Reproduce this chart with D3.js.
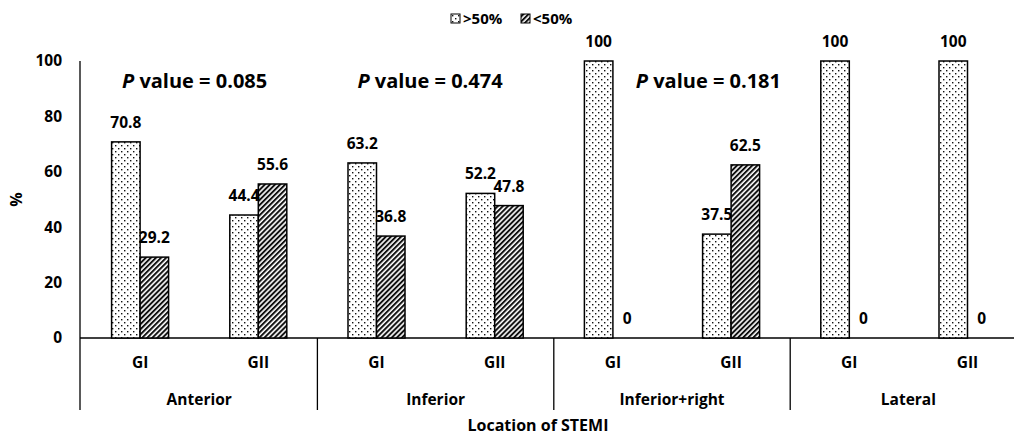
<!DOCTYPE html>
<html>
<head>
<meta charset="utf-8">
<script src="https://cdn.jsdelivr.net/npm/d3@7"></script>
<style>
  body { margin: 0; background: #fff; }
  text { font-family: "Open Sans", "Noto Sans", sans-serif; font-weight: 700; fill: #000; }
</style>
</head>
<body>
<div id="chart"></div>
<script>
// chart values
var groups = ["Anterior", "Inferior", "Inferior+right", "Lateral"];
var subCats = ["GI", "GII"];
var above50 = [70.8, 44.4, 63.2, 52.2, 100, 37.5, 100, 100];
var below50 = [29.2, 55.6, 36.8, 47.8, 0, 62.5, 0, 0];
var pValues = ["0.085", "0.474", "0.181"];
var yTicks = [0, 20, 40, 60, 80, 100];
var seriesNames = [">50%", "<50%"];

var width = 1014, height = 436;
var left = 80, top_y = 61, bottom_y = 338;
var catWidth = 118.2;
var fontFam = "'Open Sans', 'Noto Sans', sans-serif";

// build the category rows
var rows = [];
groups.forEach(function (g, gi) {
    subCats.forEach(function (s, si) {
        var i = gi * 2 + si;
        rows.push({ key: i, group: g, sub: s, above: above50[i], below: below50[i] });
    });
});

var svg = d3.select("#chart")
    .append("svg")
    .attr("width", width)
    .attr("height", height);

var defs = svg.append("defs");
var dots = defs.append("pattern")
    .attr("id", "dots")
    .attr("width", 6).attr("height", 6)
    .attr("patternUnits", "userSpaceOnUse");
dots.append("rect").attr("width", 6).attr("height", 6).attr("fill", "#fff");
dots.append("rect").attr("x", 1).attr("y", 1).attr("width", 1.4).attr("height", 1.4).attr("fill", "#111");
dots.append("rect").attr("x", 4).attr("y", 4).attr("width", 1.4).attr("height", 1.4).attr("fill", "#111");

var hatch = defs.append("pattern")
    .attr("id", "hatch")
    .attr("width", 3.6).attr("height", 3.6)
    .attr("patternUnits", "userSpaceOnUse")
    .attr("patternTransform", "rotate(45)");
hatch.append("rect").attr("width", 3.6).attr("height", 3.6).attr("fill", "#fff");
hatch.append("rect").attr("width", 2).attr("height", 3.6).attr("fill", "#111");

// scales
var xScale = d3.scaleBand()
    .domain(rows.map(function (d) { return d.key; }))
    .range([left + 1, left + 1 + catWidth * rows.length]);

var xSub = d3.scaleBand()
    .domain(["above", "below"])
    .range([0, 57]);

var yScale = d3.scaleLinear().domain([0, 100]).range([bottom_y, top_y]);

function barX(d, s) {
    return xScale(d.key) + xScale.bandwidth() / 2 - 28.5 + xSub(s);
}

// y axis tick labels
var yAxis = d3.axisLeft(yScale).tickValues(yTicks).tickSize(0).tickPadding(18);
var yG = svg.append("g")
    .attr("transform", "translate(" + left + ",0)")
    .call(yAxis);
yG.select(".domain").remove();
yG.selectAll("text")
    .attr("font-size", 15.5)
    .attr("font-family", fontFam)
    .attr("font-weight", 700)
    .attr("fill", "#000");

// axis lines
svg.append("line")
    .attr("x1", left).attr("x2", left)
    .attr("y1", yScale(100)).attr("y2", 410)
    .attr("stroke", "#000").attr("stroke-width", 1.3);
svg.append("line")
    .attr("x1", left).attr("x2", width)
    .attr("y1", yScale(0)).attr("y2", yScale(0))
    .attr("stroke", "#000").attr("stroke-width", 1.3);

// group separators
groups.forEach(function (g, gi) {
    if (gi === 0) return;
    var sx = xScale(gi * 2);
    svg.append("line")
        .attr("x1", sx).attr("x2", sx)
        .attr("y1", yScale(0)).attr("y2", 410)
        .attr("stroke", "#000").attr("stroke-width", 1.3);
});

// bars
var barW = xSub.bandwidth();
svg.selectAll("rect.above").data(rows).enter()
    .append("rect")
    .attr("class", "above")
    .attr("x", function (d) { return barX(d, "above"); })
    .attr("y", function (d) { return yScale(d.above); })
    .attr("width", barW)
    .attr("height", function (d) { return yScale(0) - yScale(d.above); })
    .attr("fill", "url(#dots)")
    .attr("stroke", "#000").attr("stroke-width", 1.5);

svg.selectAll("rect.below").data(rows.filter(function (d) { return d.below > 0; })).enter()
    .append("rect")
    .attr("class", "below")
    .attr("x", function (d) { return barX(d, "below"); })
    .attr("y", function (d) { return yScale(d.below); })
    .attr("width", barW)
    .attr("height", function (d) { return yScale(0) - yScale(d.below); })
    .attr("fill", "url(#hatch)")
    .attr("stroke", "#000").attr("stroke-width", 1.5);

// value labels
["above", "below"].forEach(function (s) {
    svg.selectAll("text.v-" + s).data(rows).enter()
        .append("text")
        .attr("class", "v-" + s)
        .attr("x", function (d) { return barX(d, s) + barW / 2; })
        .attr("y", function (d) { return yScale(d[s]) - 14; })
        .attr("text-anchor", "middle")
        .attr("font-size", 15.5)
        .text(function (d) { return d[s]; });
});

// P value annotations
var pOffsets = [41, 40, 82];
pValues.forEach(function (p, i) {
    var t = svg.append("text")
        .attr("x", xScale(i * 2) + pOffsets[i])
        .attr("y", 88)
        .attr("font-size", 20);
    t.append("tspan").attr("font-style", "italic").text("P");
    t.append("tspan").text(" value = " + p);
});

// category labels
svg.selectAll("text.sub").data(rows).enter()
    .append("text")
    .attr("class", "sub")
    .attr("x", function (d) { return xScale(d.key) + xScale.bandwidth() / 2; })
    .attr("y", 368)
    .attr("text-anchor", "middle")
    .attr("font-size", 15.5)
    .text(function (d) { return d.sub; });

svg.selectAll("text.grp").data(groups).enter()
    .append("text")
    .attr("class", "grp")
    .attr("x", function (d, i) { return xScale(i * 2) + xScale.bandwidth(); })
    .attr("y", 405)
    .attr("text-anchor", "middle")
    .attr("font-size", 15.5)
    .text(function (d) { return d; });

// axis titles
svg.append("text")
    .attr("x", 538).attr("y", 431)
    .attr("text-anchor", "middle")
    .attr("font-size", 16)
    .text("Location of STEMI");

svg.append("text")
    .attr("transform", "translate(22," + (top_y + bottom_y) / 2 + ")rotate(-90)")
    .attr("text-anchor", "middle")
    .attr("font-size", 16)
    .text("%");

// legend
var legend = svg.append("g").attr("transform", "translate(451,14)");
var legendFill = ["url(#dots)", "url(#hatch)"];
var legendX = [0, 70];
seriesNames.forEach(function (n, i) {
    legend.append("rect")
        .attr("x", legendX[i]).attr("y", 0)
        .attr("width", 9).attr("height", 9)
        .attr("fill", legendFill[i])
        .attr("stroke", "#000").attr("stroke-width", 1);
    legend.append("text")
        .attr("x", legendX[i] + 12).attr("y", 10)
        .attr("font-size", 15)
        .text(n);
});
</script>
</body>
</html>
